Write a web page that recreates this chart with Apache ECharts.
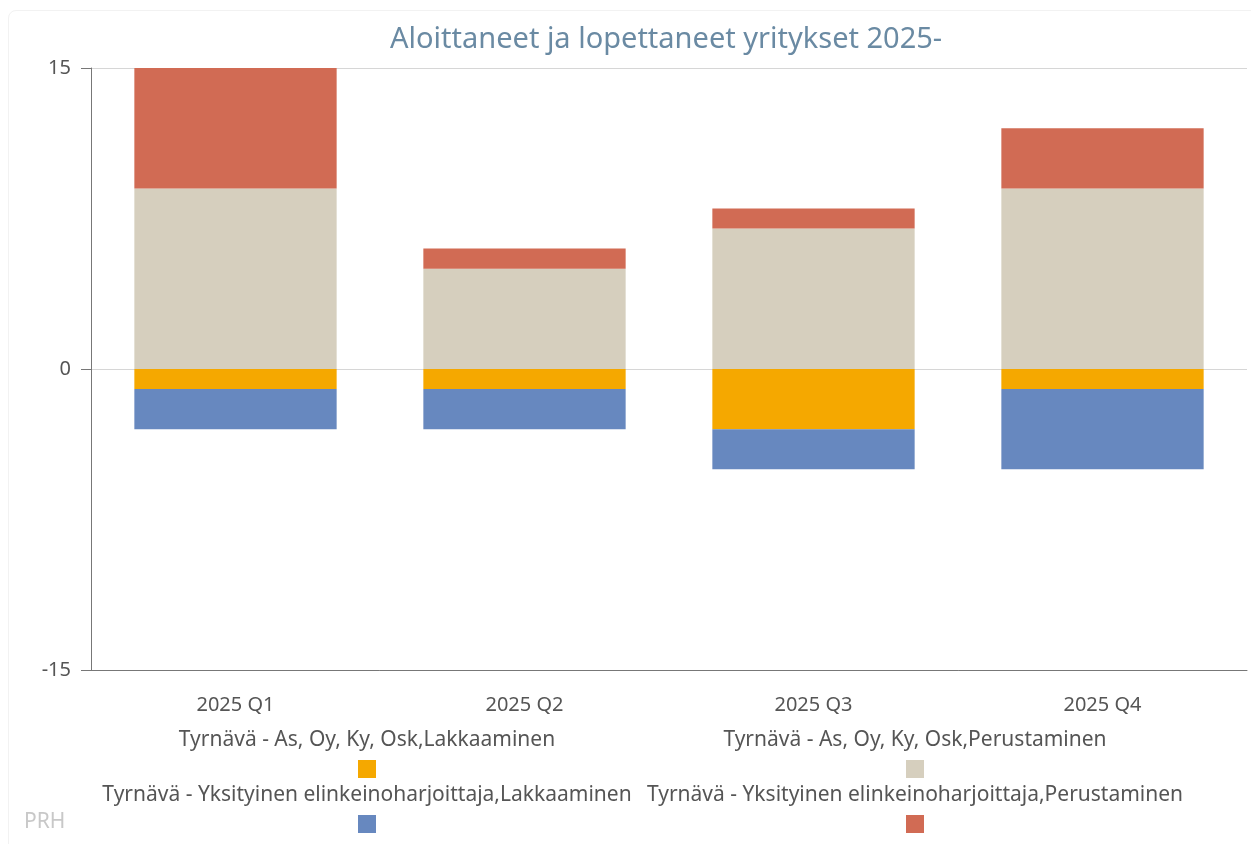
<!DOCTYPE html>
<html>
<head>
    <meta charset="utf-8">
    <script src="https://cdn.jsdelivr.net/npm/echarts@6/dist/echarts.min.js"></script>
    <style>
        body { margin: 0; background: #fff; }
        #card { position: absolute; left: 8px; top: 10px; width: 1250px; height: 840px; border: 1px solid #f2f2f2; border-radius: 8px; }
        #echartsMain { position: absolute; left: 0; top: 0; width: 1251px; height: 844px; }
    </style>
</head>
<body>
<div id="card"></div>
<div id="echartsMain"></div>
</body>
</html>

<script type="text/javascript">
    let categories = ['2025 Q1', '2025 Q2', '2025 Q3', '2025 Q4']

    let names = [
        'Tyrnävä - As, Oy, Ky, Osk,Lakkaaminen',
        'Tyrnävä - As, Oy, Ky, Osk,Perustaminen',
        'Tyrnävä - Yksityinen elinkeinoharjoittaja,Lakkaaminen',
        'Tyrnävä - Yksityinen elinkeinoharjoittaja,Perustaminen'
    ]

    let yhtioLakk = [-1, -1, -3, -1]
    let yhtioPerus = [9, 5, 7, 9]
    let yksLakk = [-2, -2, -2, -4]
    let yksPerus = [6, 1, 1, 3]

    let colors = ['#f5a800', '#d6cfbe', '#6788bf', '#d16b54']
    let fontFam = '"Noto Sans", sans-serif'

    let myChart = echarts.init(document.getElementById('echartsMain'))

    // legend: text above, square below, two columns
    let legendPos = [
        {x: 367, ty: 740, iy: 760},
        {x: 915, ty: 740, iy: 760},
        {x: 367, ty: 795, iy: 815},
        {x: 915, ty: 795, iy: 815}
    ]
    let legends = []
    let texts = []
    names.forEach((n, i) => {
        legends.push({
            data: [n],
            left: legendPos[i].x - 9,
            top: legendPos[i].iy,
            padding: 0,
            itemWidth: 18,
            itemHeight: 18,
            itemGap: 0,
            icon: 'rect',
            formatter: function () { return '' }
        })
        texts.push({
            type: 'text',
            x: legendPos[i].x,
            y: legendPos[i].ty,
            style: {
                text: n,
                fill: '#555',
                font: '21px ' + fontFam,
                textAlign: 'center',
                textVerticalAlign: 'middle'
            }
        })
    })
    texts.push({
        type: 'text',
        left: 24,
        top: 812,
        style: { text: 'PRH', fill: '#c8c8c8', font: '21px ' + fontFam }
    })

    let option = {
        color: colors,
        animation: false,
        title: {
            text: 'Aloittaneet ja lopettaneet yritykset 2025-',
            left: 385,
            top: 20,
            textStyle: { color: '#6a8aa3', fontSize: 29, fontWeight: 'normal', fontFamily: fontFam }
        },
        legend: legends,
        graphic: texts,
        grid: { left: 91, right: 4, top: 68, bottom: 174 },
        xAxis: {
            type: 'category',
            data: categories,
            axisLine: { onZero: false, lineStyle: { color: '#777' } },
            axisTick: { length: 10, lineStyle: { color: '#777' } },
            axisLabel: { color: '#555', fontSize: 20, fontFamily: fontFam, margin: 25 }
        },
        yAxis: {
            type: 'value',
            min: -15,
            max: 15,
            interval: 15,
            axisLine: { show: true, lineStyle: { color: '#777' } },
            axisTick: { show: true, length: 10, lineStyle: { color: '#777' } },
            axisLabel: { color: '#555', fontSize: 20, fontFamily: fontFam, margin: 20 },
            splitLine: { lineStyle: { color: '#d6d6d6' } }
        },
        series: [
            { name: names[0], type: 'bar', stack: 'a', barWidth: '70%', data: yhtioLakk },
            { name: names[1], type: 'bar', stack: 'a', barWidth: '70%', data: yhtioPerus },
            { name: names[2], type: 'bar', stack: 'a', barWidth: '70%', data: yksLakk },
            { name: names[3], type: 'bar', stack: 'a', barWidth: '70%', data: yksPerus }
        ]
    }
    myChart.setOption(option)
</script>
